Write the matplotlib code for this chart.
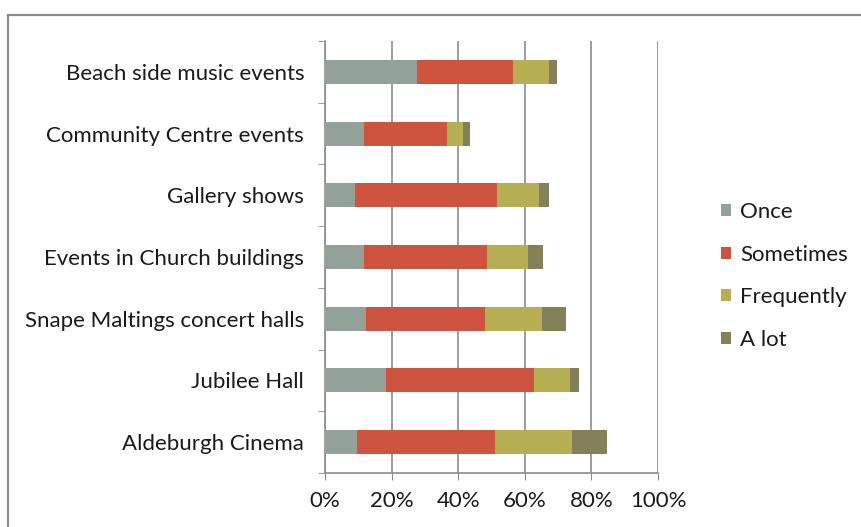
import matplotlib.pyplot as plt
from matplotlib.patches import Rectangle

plt.rcParams['font.family'] = ['Lato', 'DejaVu Sans']

# Venues, listed top to bottom as they appear on the chart
venues = ['Beach side music events', 'Community Centre events', 'Gallery shows',
          'Events in Church buildings', 'Snape Maltings concert halls',
          'Jubilee Hall', 'Aldeburgh Cinema']

# Share of respondents (%) per attendance frequency
once = [27.5, 11.6, 9.1, 11.6, 12.2, 18.2, 9.5]
sometimes = [29.1, 24.9, 42.6, 37.0, 35.8, 44.6, 41.5]
frequently = [10.7, 4.8, 12.5, 12.5, 17.2, 10.7, 23.3]
a_lot = [2.4, 2.1, 3.1, 4.5, 7.3, 2.8, 10.3]

series = [('Once', once, '#93a299'),
          ('Sometimes', sometimes, '#cf543f'),
          ('Frequently', frequently, '#b5ae53'),
          ('A lot', a_lot, '#848058')]

fig = plt.figure(figsize=(8.61, 5.27), dpi=100)
ax = fig.add_axes([325 / 861, 1 - 473 / 527, 333 / 861, 432 / 527])

# chart area border
fig.patches.append(Rectangle((8 / 861, -0.1), 1.2, 1 - 15 / 527 + 0.1,
                             transform=fig.transFigure, fill=False,
                             edgecolor='#8c8c8c', linewidth=1.6))

ypos = list(range(len(venues)))[::-1]
left = [0.0] * len(venues)
for name, values, colour in series:
    ax.barh(ypos, [v / 100 for v in values], left=left, height=0.39,
            color=colour, label=name, zorder=3)
    left = [l + v / 100 for l, v in zip(left, values)]

ax.set_xlim(0, 1)
ax.set_ylim(-0.5, len(venues) - 0.5)
ax.set_xticks([0, 0.2, 0.4, 0.6, 0.8, 1.0])
ax.set_xticklabels(['0%', '20%', '40%', '60%', '80%', '100%'])
ax.set_yticks(ypos)
ax.set_yticklabels(venues)
ax.set_yticks([i - 0.5 for i in range(len(venues) + 1)], minor=True)
ax.tick_params(axis='y', which='major', length=0, pad=15)
ax.tick_params(axis='y', which='minor', length=5, color='#8c8c8c')
ax.tick_params(axis='x', length=5, color='#8c8c8c', pad=8)
ax.tick_params(labelsize=16, labelcolor='#1a1a1a')

ax.grid(axis='x', color='#8c8c8c', linewidth=1.2, zorder=0)
for side in ['top', 'right']:
    ax.spines[side].set_visible(False)
for side in ['left', 'bottom']:
    ax.spines[side].set_color('#8c8c8c')
    ax.spines[side].set_linewidth(1.2)

ax.legend(loc='center left', bbox_to_anchor=(721 / 861, 1 - 276 / 527),
          bbox_transform=fig.transFigure, frameon=False, fontsize=16,
          borderpad=0, borderaxespad=0,
          handlelength=0.45, handleheight=0.45, handletextpad=0.4,
          labelspacing=1.02, labelcolor='#1a1a1a')

fig.savefig('out.png', dpi=100)
